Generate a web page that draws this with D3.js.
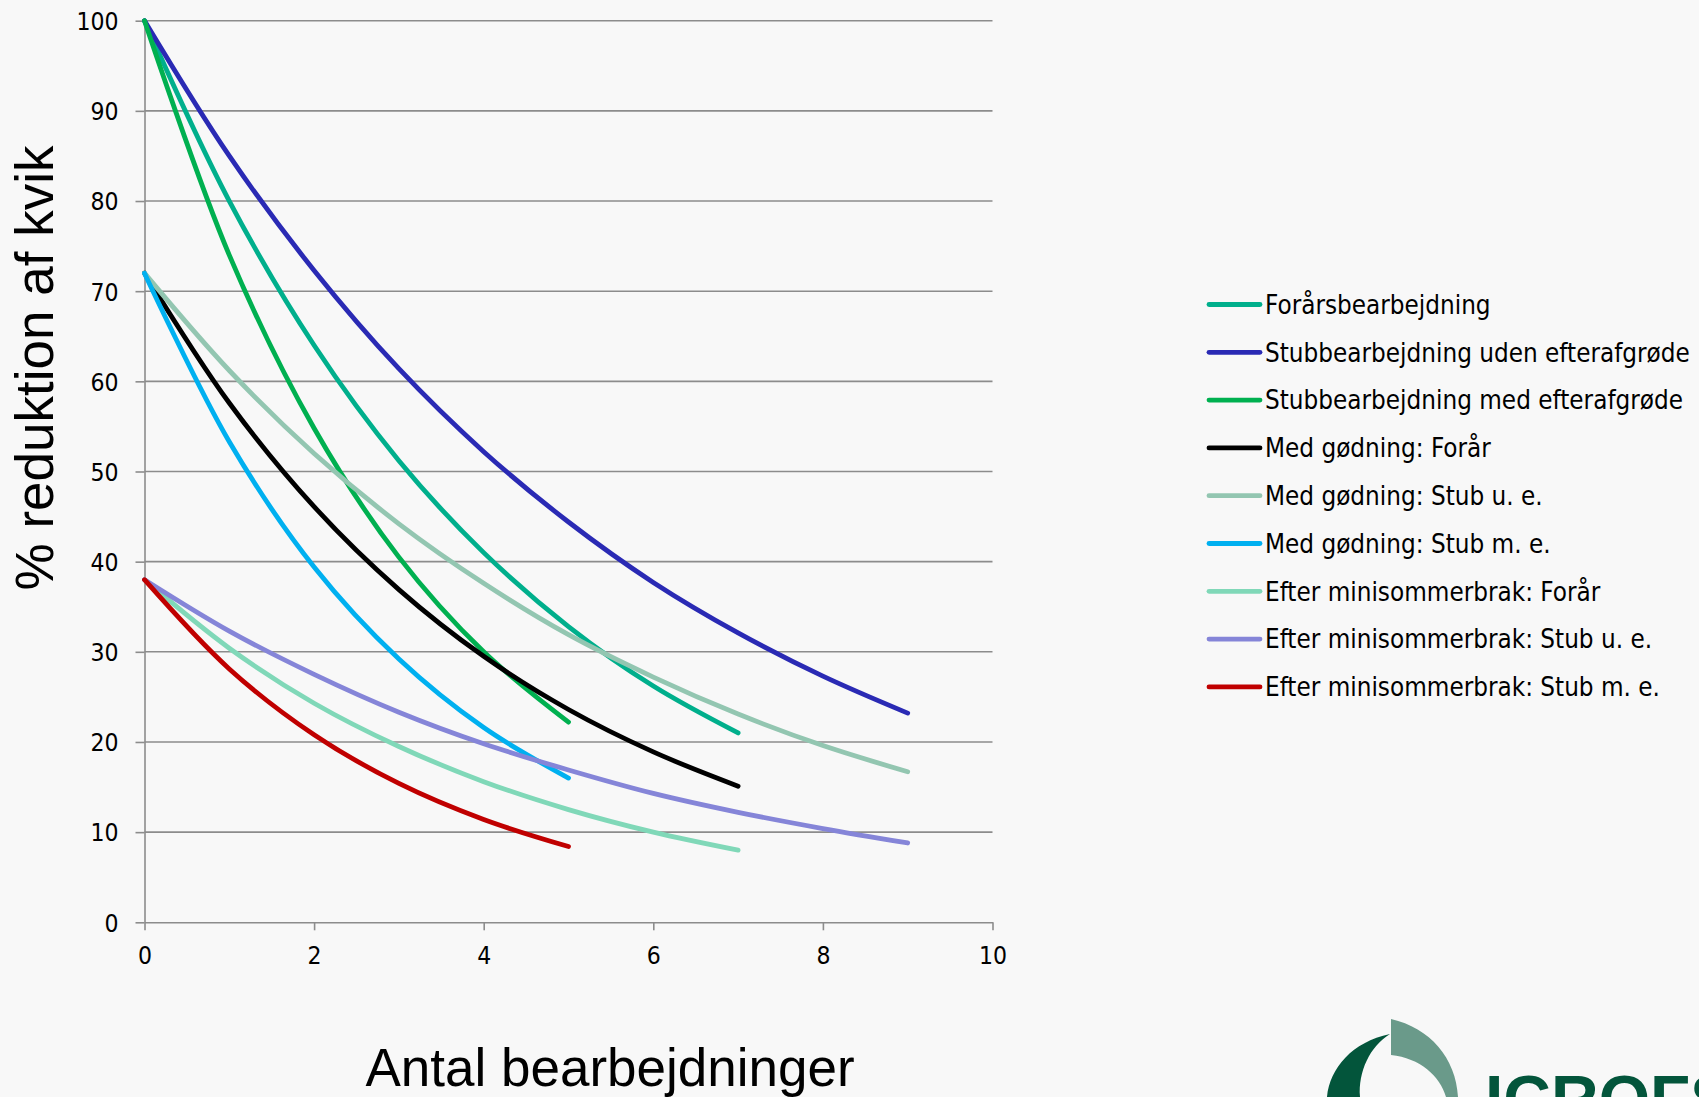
<!DOCTYPE html>
<html>
<head>
<meta charset="utf-8">
<script src="https://cdn.jsdelivr.net/npm/d3@7"></script>
<style>
  html, body { margin: 0; padding: 0; background: #F8F8F8; }
  svg { display: block; }
</style>
</head>
<body>
<svg id="chart" width="1699" height="1097"></svg>
<script>
// ---- data ----
const seriesNames = [
  "Forårsbearbejdning",
  "Stubbearbejdning uden efterafgrøde",
  "Stubbearbejdning med efterafgrøde",
  "Med gødning: Forår",
  "Med gødning: Stub u. e.",
  "Med gødning: Stub m. e.",
  "Efter minisommerbrak: Forår",
  "Efter minisommerbrak: Stub u. e.",
  "Efter minisommerbrak: Stub m. e."
];
const seriesColors = ["#00AF8C", "#2A2AB4", "#00B050", "#000000", "#93C6B1", "#00B0F0", "#80D8B8", "#8585D8", "#C00000"];

const forarsbearbejdning   = [100, 80, 64, 51.2, 41.0, 32.8, 26.2, 21.0];
const stubUdenEfterafgrode = [100, 85, 72.3, 61.4, 52.2, 44.4, 37.7, 32.1, 27.3, 23.2];
const stubMedEfterafgrode  = [100, 74, 54.8, 40.5, 30.0, 22.2];
const godningForar         = [72, 57.6, 46.1, 36.9, 29.5, 23.6, 18.9, 15.1];
const godningStubUE        = [72, 61.2, 52.0, 44.2, 37.6, 31.9, 27.2, 23.1, 19.6, 16.7];
const godningStubME        = [72, 53.3, 39.4, 29.2, 21.6, 16.0];
const miniForar            = [38, 30.4, 24.3, 19.5, 15.6, 12.5, 10.0, 8.0];
const miniStubUE           = [38, 32.3, 27.5, 23.3, 19.8, 16.9, 14.3, 12.2, 10.4, 8.8];
const miniStubME           = [38, 28.1, 20.8, 15.4, 11.4, 8.4];

const seriesValues = [forarsbearbejdning, stubUdenEfterafgrode, stubMedEfterafgrode,
  godningForar, godningStubUE, godningStubME, miniForar, miniStubUE, miniStubME];

const xTicks = [0, 2, 4, 6, 8, 10];
const yTicks = [0, 10, 20, 30, 40, 50, 60, 70, 80, 90, 100];
const xTitle = "Antal bearbejdninger";
const yTitle = "% reduktion af kvik";

// ---- layout ----
const svg = d3.select("#chart");
const x = d3.scaleLinear().domain([0, 10]).range([144.5, 992.5]);
const y = d3.scaleLinear().domain([0, 100]).range([922.3, 20.7]);
const gridColor = "#8C8C8C";
const tickFont = "'DejaVu Sans Condensed', 'DejaVu Sans', sans-serif";

svg.append("rect").attr("width", 1699).attr("height", 1097).attr("fill", "#F8F8F8");

// gridlines
svg.append("g").selectAll("line").data(yTicks.filter(d => d > 0)).join("line")
  .attr("x1", x(0)).attr("x2", x(10))
  .attr("y1", d => y(d)).attr("y2", d => y(d))
  .attr("stroke", gridColor).attr("stroke-width", 1.6);

// y axis
const yAxis = svg.append("g").attr("transform", `translate(${x(0)},0)`)
  .call(d3.axisLeft(y).tickValues(yTicks).tickSize(9).tickPadding(17).tickSizeOuter(0));
yAxis.select(".domain").attr("stroke", gridColor).attr("stroke-width", 1.6);
yAxis.selectAll(".tick line").attr("stroke", gridColor).attr("stroke-width", 1.6);
yAxis.selectAll(".tick text").attr("font-family", tickFont).attr("font-size", 24.5).attr("fill", "#000")
  .attr("dy", "0.36em");

// x axis
const xAxis = svg.append("g").attr("transform", `translate(0,${y(0)})`)
  .call(d3.axisBottom(x).tickValues(xTicks).tickSize(8).tickPadding(16).tickSizeOuter(0));
xAxis.select(".domain").attr("stroke", gridColor).attr("stroke-width", 1.6);
xAxis.selectAll(".tick line").attr("stroke", gridColor).attr("stroke-width", 1.6);
xAxis.selectAll(".tick text").attr("font-family", tickFont).attr("font-size", 24.5).attr("fill", "#000");

// lines
const line = d3.line()
  .x((d, i) => x(i))
  .y(d => y(d))
  .curve(d3.curveCatmullRom.alpha(0.5));

svg.append("g").selectAll("path").data(seriesValues).join("path")
  .attr("d", d => line(d))
  .attr("fill", "none")
  .attr("stroke", (d, i) => seriesColors[i])
  .attr("stroke-width", 4.8)
  .attr("stroke-linecap", "round")
  .attr("stroke-linejoin", "round");

// legend
const legend = svg.append("g");
const legY0 = 304.5, legStep = 47.8;
seriesNames.forEach((name, i) => {
  const ly = legY0 + i * legStep;
  legend.append("line").attr("x1", 1209).attr("x2", 1260).attr("y1", ly).attr("y2", ly)
    .attr("stroke", seriesColors[i]).attr("stroke-width", 4.8).attr("stroke-linecap", "round");
  legend.append("text").attr("x", 1265).attr("y", ly).attr("dy", "0.36em")
    .attr("font-family", tickFont).attr("font-size", 25.8).attr("fill", "#000").text(name);
});

// axis titles
svg.append("text").attr("x", 610).attr("y", 1086).attr("text-anchor", "middle")
  .attr("font-family", "'Liberation Sans', Arial, sans-serif").attr("font-size", 53).attr("fill", "#000")
  .text(xTitle);
svg.append("text").attr("transform", "translate(53,368) rotate(-90)").attr("text-anchor", "middle")
  .attr("font-family", "'Liberation Sans', Arial, sans-serif").attr("font-size", 53).attr("fill", "#000")
  .text(yTitle);

// logo (decoration)
const logo = svg.append("g");
logo.append("path").attr("d", "M1391,1019 C1430,1028 1456,1058 1458,1097 L1446,1097 C1440,1076 1420,1058 1391,1055 Z")
  .attr("fill", "#6A9A8A");
logo.append("path").attr("d", "M1390,1034 C1352,1042 1330,1068 1327,1097 L1360,1097 C1358,1072 1370,1046 1390,1034 Z")
  .attr("fill", "#03553B");
logo.append("text").attr("x", 1485).attr("y", 1122).attr("font-family", "'Liberation Sans', Arial, sans-serif")
  .attr("font-weight", "bold").attr("font-size", 66).attr("fill", "#03553B").text("ICROFS");
</script>
</body>
</html>
